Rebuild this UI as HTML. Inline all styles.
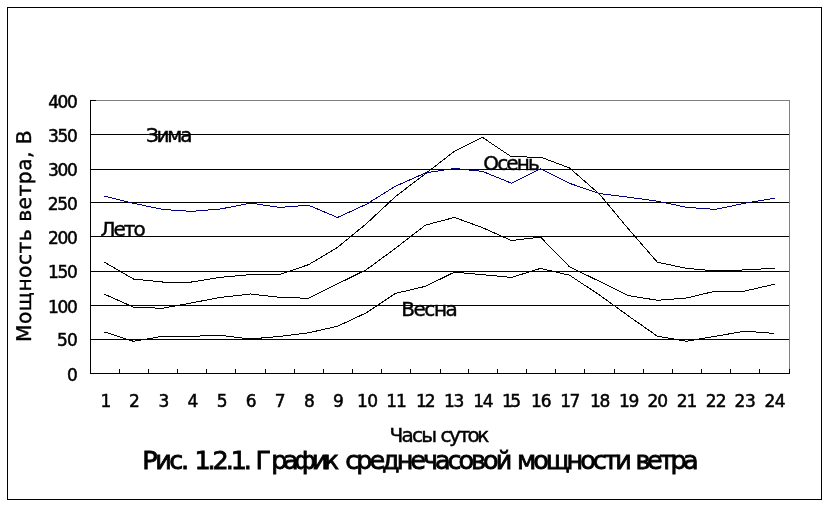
<!DOCTYPE html>
<html lang="ru"><head><meta charset="utf-8"><title>Рис. 1.2.1. График среднечасовой мощности ветра</title>
<style>
html,body{margin:0;padding:0;background:#fff;}
body{width:829px;height:506px;overflow:hidden;position:relative;}
svg{position:absolute;left:0;top:0;display:block;will-change:transform;}
text{font-family:"DejaVu Sans","Liberation Sans",sans-serif;fill:#000;}
text{stroke:#000;}
.tick{font-size:17px;stroke-width:0.5px;}
.ser{font-size:20px;stroke-width:0.45px;}
.cap{font-size:25.5px;stroke-width:0.8px;}
.yt{font-size:20.3px;letter-spacing:0.46px;stroke-width:0.4px;text-rendering:geometricPrecision;}
</style></head><body>
<svg width="829" height="506" viewBox="0 0 829 506">
<rect x="0" y="0" width="829" height="506" fill="#fff"/>
<rect x="7.5" y="7.5" width="814" height="492" fill="none" stroke="#000" stroke-width="1" shape-rendering="crispEdges"/>
<path d="M90.5 100.5H789.5V373.5" fill="none" stroke="#808080" stroke-width="1" shape-rendering="crispEdges"/>
<path d="M90 134.5H789M90 169.5H789M90 202.5H789M90 236.5H789M90 271.5H789M90 305.5H789M90 339.5H789" fill="none" stroke="#000" stroke-width="1" shape-rendering="crispEdges"/>
<path d="M90.5 100V374M90 373.5H790M90 100.5H96M90 134.5H96M90 169.5H96M90 202.5H96M90 236.5H96M90 271.5H96M90 305.5H96M90 339.5H96M90 373.5H96M90.5 369V374M119.5 369V374M148.5 369V374M177.5 369V374M206.5 369V374M235.5 369V374M265.5 369V374M294.5 369V374M323.5 369V374M352.5 369V374M381.5 369V374M410.5 369V374M440.5 369V374M468.5 369V374M497.5 369V374M526.5 369V374M555.5 369V374M584.5 369V374M614.5 369V374M643.5 369V374M672.5 369V374M701.5 369V374M730.5 369V374M759.5 369V374M789.5 369V374" fill="none" stroke="#000" stroke-width="1" shape-rendering="crispEdges"/>
<polyline points="104.5,262.2 133.5,279.0 162.5,282.0 191.5,282.0 220.5,277.3 250.5,274.6 279.5,274.4 308.5,264.7 337.5,247.4 366.5,223.6 395.5,196.5 425.5,173.7 454.5,151.2 482.5,137.4 511.5,156.9 540.5,157.1 569.5,167.9 599.5,194.2 628.5,229.1 657.5,262.3 686.5,268.3 715.5,271.0 744.5,269.9 774.5,268.3" fill="none" stroke="#000" stroke-width="1" shape-rendering="crispEdges"/>
<polyline points="104.5,294.2 133.5,307.1 162.5,308.3 191.5,302.9 220.5,297.4 250.5,294.0 279.5,297.3 308.5,298.3 337.5,283.9 366.5,269.6 395.5,248.3 425.5,225.1 454.5,217.4 482.5,227.7 511.5,240.5 540.5,237.1 569.5,266.8 599.5,281.4 628.5,295.6 657.5,300.3 686.5,298.0 715.5,291.1 744.5,291.1 774.5,284.2" fill="none" stroke="#000" stroke-width="1" shape-rendering="crispEdges"/>
<polyline points="104.5,332.0 133.5,341.3 162.5,336.3 191.5,336.3 220.5,335.3 250.5,339.0 279.5,336.4 308.5,332.8 337.5,326.3 366.5,312.7 395.5,293.4 425.5,286.3 454.5,272.1 482.5,274.7 511.5,277.4 540.5,268.4 569.5,275.2 599.5,295.0 628.5,316.0 657.5,336.3 686.5,341.2 715.5,336.3 744.5,331.2 774.5,333.4" fill="none" stroke="#000" stroke-width="1" shape-rendering="crispEdges"/>
<polyline points="104.5,196.2 133.5,203.3 162.5,209.4 191.5,211.4 220.5,209.0 250.5,203.1 279.5,207.4 308.5,205.2 337.5,217.5 366.5,204.2 395.5,186.2 425.5,172.9 454.5,168.4 482.5,171.4 511.5,183.2 540.5,168.9 569.5,183.3 599.5,193.6 628.5,197.2 657.5,201.2 686.5,207.3 715.5,209.4 744.5,203.3 774.5,198.2" fill="none" stroke="#000080" stroke-width="1" shape-rendering="crispEdges"/>
<g style="filter:grayscale(1)">
<text class="tick" x="48.3" y="108" style="letter-spacing:-1.52px">400</text>
<text class="tick" x="47.9" y="142" style="letter-spacing:-1.31px">350</text>
<text class="tick" x="47.9" y="176" style="letter-spacing:-1.31px">300</text>
<text class="tick" x="47.7" y="210" style="letter-spacing:-1.21px">250</text>
<text class="tick" x="47.9" y="244" style="letter-spacing:-1.31px">200</text>
<text class="tick" x="48.1" y="278" style="letter-spacing:-1.4px">150</text>
<text class="tick" x="48.1" y="313" style="letter-spacing:-1.4px">100</text>
<text class="tick" x="57.0" y="346" style="letter-spacing:-0.7px">50</text>
<text class="tick" x="67.0" y="381" style="letter-spacing:0px">0</text>
<text class="tick" x="100.4" y="407" style="letter-spacing:0px">1</text>
<text class="tick" x="128.9" y="407" style="letter-spacing:0px">2</text>
<text class="tick" x="158.4" y="407" style="letter-spacing:0px">3</text>
<text class="tick" x="187.4" y="407" style="letter-spacing:0px">4</text>
<text class="tick" x="216.8" y="407" style="letter-spacing:0px">5</text>
<text class="tick" x="245.8" y="407" style="letter-spacing:0px">6</text>
<text class="tick" x="274.8" y="407" style="letter-spacing:0px">7</text>
<text class="tick" x="304.1" y="407" style="letter-spacing:0px">8</text>
<text class="tick" x="333.0" y="407" style="letter-spacing:0px">9</text>
<text class="tick" x="357.0" y="407" style="letter-spacing:-0.49px">10</text>
<text class="tick" x="386.2" y="407" style="letter-spacing:-0.88px">11</text>
<text class="tick" x="416.1" y="407" style="letter-spacing:-2.07px">12</text>
<text class="tick" x="444.0" y="407" style="letter-spacing:-1.32px">13</text>
<text class="tick" x="473.2" y="407" style="letter-spacing:-1.21px">14</text>
<text class="tick" x="502.1" y="407" style="letter-spacing:-2.54px">15</text>
<text class="tick" x="531.0" y="407" style="letter-spacing:-1.15px">16</text>
<text class="tick" x="560.2" y="407" style="letter-spacing:-1.59px">17</text>
<text class="tick" x="590.0" y="407" style="letter-spacing:-1.35px">18</text>
<text class="tick" x="619.0" y="407" style="letter-spacing:-1.35px">19</text>
<text class="tick" x="647.6" y="407" style="letter-spacing:-1.22px">20</text>
<text class="tick" x="676.8" y="407" style="letter-spacing:-1.21px">21</text>
<text class="tick" x="705.8" y="407" style="letter-spacing:-0.81px">22</text>
<text class="tick" x="734.6" y="407" style="letter-spacing:-0.45px">23</text>
<text class="tick" x="764.4" y="407" style="letter-spacing:-0.35px">24</text>
<text class="ser" x="146.0" y="142" style="letter-spacing:-2.23px">Зима</text>
<text class="ser" x="100.6" y="236" style="letter-spacing:-2.05px">Лето</text>
<text class="ser" x="483.3" y="170" style="letter-spacing:-1.84px">Осень</text>
<text class="ser" x="401.3" y="316" style="letter-spacing:-1.48px">Весна</text>
<text class="ser" y="442"><tspan x="389.5" style="letter-spacing:-1.7px">Часы </tspan><tspan x="440.6" style="letter-spacing:-2.5px">суток</tspan></text>
<text class="cap" y="469"><tspan x="142.2" style="letter-spacing:-2.41px">Рис. </tspan><tspan x="194.5" style="letter-spacing:-3.12px">1.2.1. </tspan><tspan x="255.6" style="letter-spacing:0px">Г</tspan><tspan x="271.3" style="letter-spacing:-4.42px">рафик </tspan><tspan x="345.3" style="letter-spacing:-3.04px">среднечасовой </tspan><tspan x="517.0" style="letter-spacing:-3.1px">мощности </tspan><tspan x="635.5" style="letter-spacing:-3.54px">ветра</tspan></text>
<text class="yt" transform="translate(31.1 342) rotate(-90)">Мощность ветра, В</text>
</g>
</svg></body></html>
